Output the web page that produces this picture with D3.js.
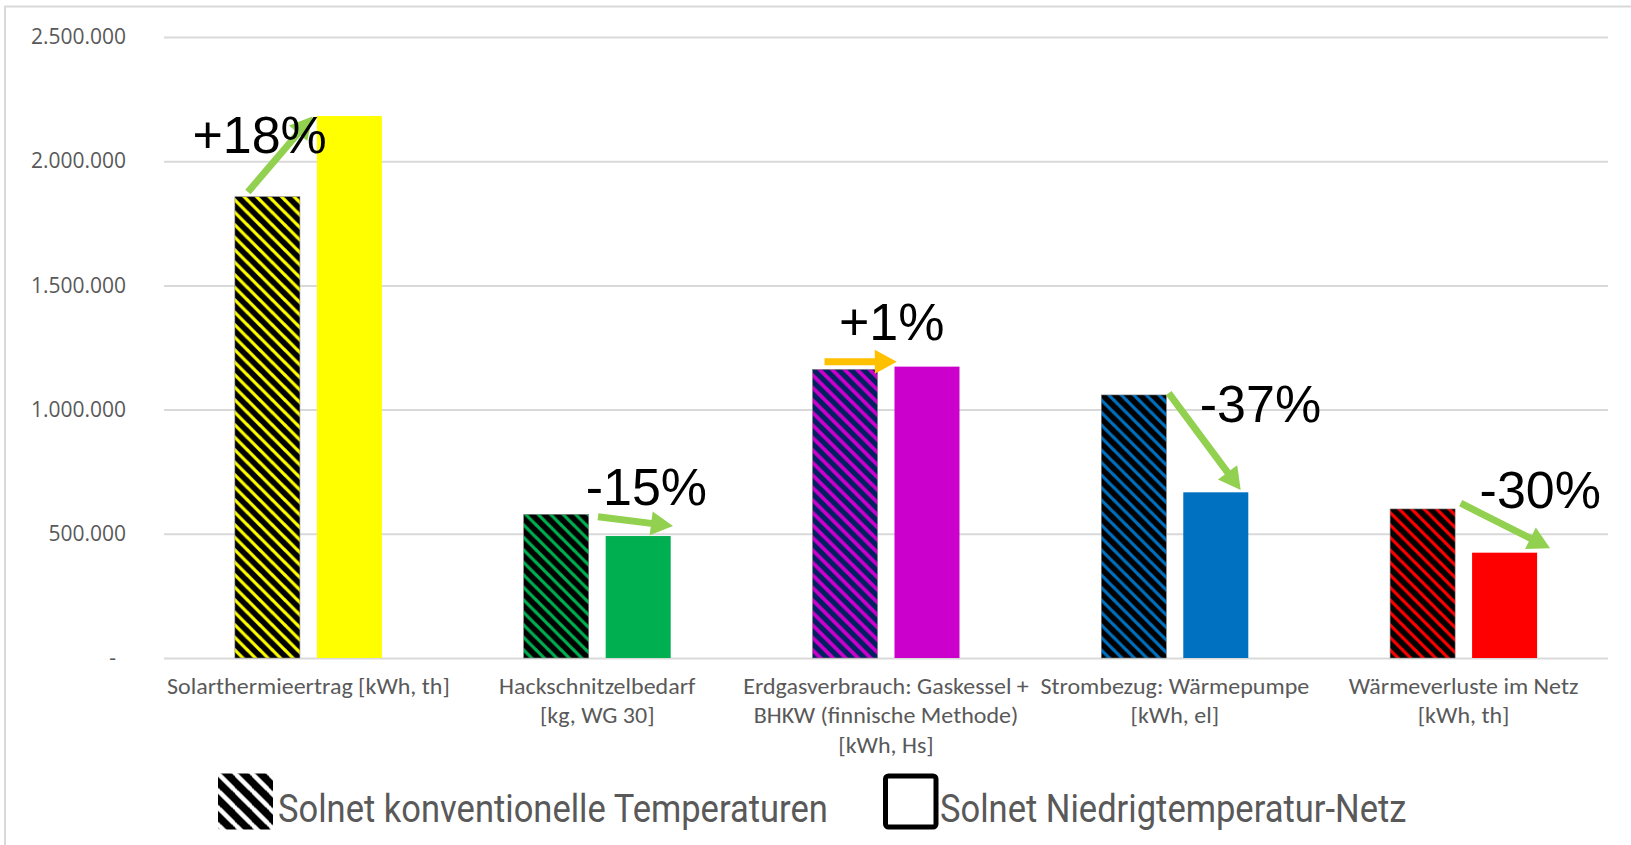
<!DOCTYPE html>
<html>
<head>
<meta charset="utf-8">
<script src="https://cdn.jsdelivr.net/npm/d3@7"></script>
<style>
  html, body { margin: 0; padding: 0; background: #ffffff; }
  svg { display: block; }
</style>
</head>
<body>
<script>
// ---------------- DATA ----------------
const categories = [
  "Solarthermieertrag [kWh, th]",
  "Hackschnitzelbedarf\n[kg, WG 30]",
  "Erdgasverbrauch: Gaskessel +\nBHKW (finnische Methode)\n[kWh, Hs]",
  "Strombezug: Wärmepumpe\n[kWh, el]",
  "Wärmeverluste im Netz\n[kWh, th]"
];
const seriesNames = ["Solnet konventionelle Temperaturen", "Solnet Niedrigtemperatur-Netz"];
const konventionell = [1857000, 578500, 1162000, 1059000, 600000];
const niedrigtemperatur = [2182000, 491000, 1173000, 667000, 424000];
const yTicks = [0, 500000, 1000000, 1500000, 2000000, 2500000];
const yTickLabels = ["-", "500.000", "1.000.000", "1.500.000", "2.000.000", "2.500.000"];
const changeLabels = ["+18%", "-15%", "+1%", "-37%", "-30%"];

// ---------------- STYLE / LAYOUT ----------------
const barColors = ["#FFFF00", "#00B050", "#CC00CC", "#0070C0", "#FF0000"];
const hatchBg = ["#000000", "#000000", "#002060", "#000000", "#000000"];
const arrowColors = ["#92D050", "#92D050", "#FFC000", "#92D050", "#92D050"];
// annotation layout: offsets (px) from category centre, heights in data units
const arrowLayout = [
  { dx0: -60.5, v0: 1876000, dx1: 4,    v1: 2180000 },
  { dx0: 0.8,   v0: 569000,  dx1: 75.8, v1: 531000 },
  { dx0: -61.5, v0: 1193000, dx1: 10.8, v1: 1193000 },
  { dx0: -6.1,  v0: 1066000, dx1: 65.9, v1: 676000 },
  { dx0: -2.9,  v0: 623000,  dx1: 86.5, v1: 442000 }
];
const labelLayout = [
  { dx: -116, v: 2033000 },
  { dx: -11.5, v: 616000 },
  { dx: -47,  v: 1280000 },
  { dx: 25,   v: 951000 },
  { dx: 16,   v: 604000 }
];

const W = 1631, H = 845;
const plotLeft = 164, plotRight = 1608;

const svg = d3.select("body").append("svg")
  .attr("width", W).attr("height", H);

// chart border
svg.append("rect")
  .attr("x", 5).attr("y", 6.5).attr("width", 1700).attr("height", 900)
  .attr("fill", "none").attr("stroke", "#d9d9d9").attr("stroke-width", 2);

const x0 = d3.scaleBand().domain(d3.range(categories.length))
  .range([plotLeft, plotRight]).paddingInner(0.491).paddingOuter(0.2455);
const x1 = d3.scaleBand().domain([0, 1]).range([0, x0.bandwidth()]).paddingInner(0.207);
const y = d3.scaleLinear().domain([0, 2500000]).range([658, 37]);

// patterns
const defs = svg.append("defs");
const p = 12.5;
categories.forEach((c, i) => {
  const pat = defs.append("pattern")
    .attr("id", "hatch" + i)
    .attr("patternUnits", "userSpaceOnUse")
    .attr("width", p).attr("height", p);
  pat.append("rect").attr("width", p).attr("height", p).attr("fill", hatchBg[i]);
  pat.append("path")
    .attr("d", `M-1,-1L${p + 1},${p + 1}M-1,${p - 1}L1,${p + 1}M${p - 1},-1L${p + 1},1`)
    .attr("stroke", barColors[i])
    .attr("stroke-width", i === 2 ? 3.8 : 3.2);
});
// legend pattern (black with white stripes)
{
  const lp = 17;
  const pat = defs.append("pattern").attr("id", "hatchLegend")
    .attr("patternUnits", "userSpaceOnUse").attr("width", lp).attr("height", lp)
    .attr("x", 218).attr("y", 773.5);
  pat.append("rect").attr("width", lp).attr("height", lp).attr("fill", "#000");
  pat.append("path")
    .attr("d", `M-1,-1L${lp + 1},${lp + 1}M-1,${lp - 1}L1,${lp + 1}M${lp - 1},-1L${lp + 1},1`)
    .attr("stroke", "#fff").attr("stroke-width", 4.5);
}

// axis + gridlines
const axis = d3.axisLeft(y)
  .tickValues(yTicks)
  .tickFormat((d, i) => yTickLabels[i])
  .tickSize(-(plotRight - plotLeft))
  .tickPadding(38);
const gAxis = svg.append("g").attr("transform", `translate(${plotLeft},0)`).call(axis);
gAxis.select(".domain").remove();
gAxis.selectAll(".tick line").attr("stroke", "#d9d9d9").attr("stroke-width", 2);
gAxis.selectAll(".tick text")
  .attr("fill", "#595959")
  .style("font-family", "'Open Sans', sans-serif")
  .style("font-size", "21px");
gAxis.selectAll(".tick text").filter(d => d === 0).attr("x", -48);

// bars
const series = [konventionell, niedrigtemperatur];
const groups = svg.append("g").selectAll("g")
  .data(categories.map((c, i) => i))
  .join("g")
  .attr("transform", i => `translate(${x0(i)},0)`);
groups.selectAll("rect")
  .data(i => series.map((s, k) => ({ i, k, v: s[i] })))
  .join("rect")
  .attr("x", d => x1(d.k))
  .attr("width", x1.bandwidth())
  .attr("y", d => y(d.v))
  .attr("height", d => y(0) - y(d.v))
  .attr("fill", d => d.k === 0 ? `url(#hatch${d.i})` : barColors[d.i])
  .attr("stroke", d => d.k === 0 ? "#7f7f7f" : "none")
  .attr("stroke-width", 0.6);

// arrows
function arrowPath(sx, sy, tx, ty, w, hl, hw) {
  const dx = tx - sx, dy = ty - sy, L = Math.hypot(dx, dy);
  const ux = dx / L, uy = dy / L, nx = -uy, ny = ux;
  const bx = tx - ux * hl, by = ty - uy * hl;
  const pts = [
    [sx + nx * w / 2, sy + ny * w / 2],
    [bx + nx * w / 2, by + ny * w / 2],
    [bx + nx * hw / 2, by + ny * hw / 2],
    [tx, ty],
    [bx - nx * hw / 2, by - ny * hw / 2],
    [bx - nx * w / 2, by - ny * w / 2],
    [sx - nx * w / 2, sy - ny * w / 2]
  ];
  return "M" + pts.map(p => p.join(",")).join("L") + "Z";
}
const center = i => x0(i) + x0.bandwidth() / 2;
svg.append("g").selectAll("path")
  .data(arrowLayout)
  .join("path")
  .attr("d", (a, i) => arrowPath(center(i) + a.dx0, y(a.v0), center(i) + a.dx1, y(a.v1), 7, 22, 24))
  .attr("fill", (a, i) => arrowColors[i]);

// change labels
svg.append("g").selectAll("text")
  .data(changeLabels)
  .join("text")
  .attr("x", (t, i) => center(i) + labelLayout[i].dx)
  .attr("y", (t, i) => y(labelLayout[i].v))
  .text(t => t)
  .attr("fill", "#000")
  .style("font-family", "'Liberation Sans', Arial, sans-serif")
  .style("font-size", "52px");

// category labels
const catG = svg.append("g");
const catTexts = [];
categories.forEach((c, i) => {
  const g = catG.append("g");
  const t = g.append("text")
    .attr("text-anchor", "middle")
    .attr("fill", "#595959")
    .style("font-family", "Carlito, Lato, 'Open Sans', sans-serif")
    .style("font-size", "23px");
  c.split("\n").forEach((line, j) => {
    t.append("tspan").attr("x", 0).attr("y", 694 + j * 29.5).text(line);
  });
  catTexts.push({ g, t, i });
});
const refLine = catTexts[0].t.select("tspan").node().getComputedTextLength();
const catScale = 283 / refLine;
catTexts.forEach(({ g, i }) => {
  g.attr("transform", `translate(${center(i)},0) scale(${catScale},1)`);
});

// legend
const legend = svg.append("g");
legend.append("rect")
  .attr("x", 218).attr("y", 773.5).attr("width", 55).attr("height", 56)
  .attr("rx", 3).attr("fill", "url(#hatchLegend)");
legend.append("rect")
  .attr("x", 885.5).attr("y", 776).attr("width", 50.5).attr("height", 51)
  .attr("rx", 3).attr("fill", "#fff").attr("stroke", "#000").attr("stroke-width", 5);
const lt1 = legend.append("text")
  .attr("fill", "#595959")
  .style("font-family", "Roboto, sans-serif")
  .style("font-size", "38px")
  .text(seriesNames[0]);
const lt2 = legend.append("text")
  .attr("fill", "#595959")
  .style("font-family", "Roboto, sans-serif")
  .style("font-size", "38px")
  .text(seriesNames[1]);
const legScale = 550 / lt1.node().getComputedTextLength();
lt1.attr("transform", `translate(278,822) scale(${legScale},1)`);
lt2.attr("transform", `translate(940,822) scale(${legScale},1)`);
</script>
</body>
</html>
